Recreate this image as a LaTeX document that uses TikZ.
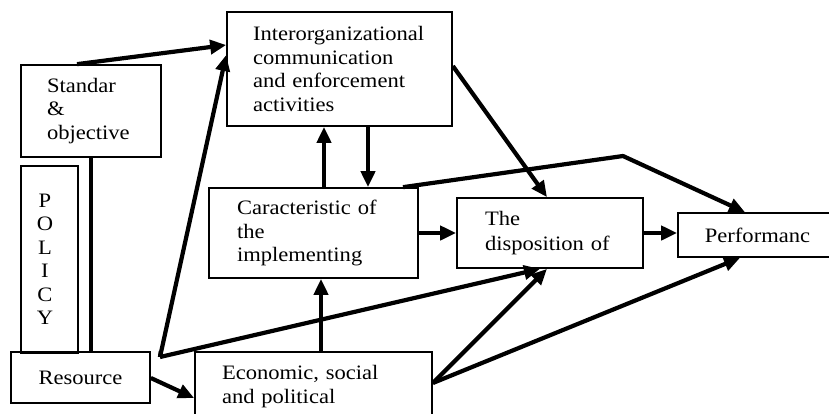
\documentclass[tikz,border=0pt]{standalone}
\usepackage{fontspec}
\setmainfont{Liberation Serif}[FakeStretch=1.1]
\usetikzlibrary{arrows.meta}
% letters of the vertical label sit a little left of the box centre
\newcommand\polchar[1]{\hspace*{-9pt}#1\hspace*{9pt}}
\tikzset{
  box/.style={draw, line width=1.7pt, rectangle, inner ysep=0pt, align=left,
    font=\fontsize{20.5}{23.5}\selectfont},
  flow/.style={line width=4.2pt, -{Triangle[length=16pt,width=14pt]}},
  link/.style={line width=4.2pt},
}
\begin{document}
\begin{tikzpicture}[x=1pt,y=-1pt]
\useasboundingbox[fill=white] (0,0) rectangle (829,413);

% boxes
\node[box, minimum width=140pt, minimum height=92pt, text width=88pt, inner xsep=26pt] (std) at (91,111) {Standar\\\&\\objective};
\node[box, minimum width=57pt, minimum height=187pt, text width=57pt, inner xsep=0pt, align=center] (pol) at (49.5,259.5)
  {\polchar{P}\\\polchar{O}\\\polchar{L}\\\polchar{I}\\\polchar{C}\\\polchar{Y}};
\node[box, minimum width=139pt, minimum height=51pt, text width=139pt, inner xsep=0pt, align=center] (res) at (80.5,377.5) {Resource};
\node[box, minimum width=225pt, minimum height=114pt, text width=173pt, inner xsep=26pt] (io) at (339.5,69)
  {Interorganizational\\communication\\and enforcement\\activities};
\node[box, minimum width=209pt, minimum height=90pt, text width=153pt, inner xsep=28pt] (ch) at (313.5,233)
  {Caracteristic of\\the\\implementing};
\node[box, minimum width=237pt, minimum height=69pt, text width=183pt, inner xsep=27pt] (eco) at (313.5,386.5)
  {Economic, social\\and political};
\node[box, minimum width=186pt, minimum height=70pt, text width=130pt, inner xsep=28pt,
  font=\fontsize{20.5}{25}\selectfont] (disp) at (550,233) {The\\disposition of};
\node[box, minimum width=159pt, minimum height=44pt, text width=159pt, inner xsep=0pt, align=center] (perf) at (757.5,235) {Performanc};

% junction points of the connectors
\coordinate (hub) at (160,357);
\coordinate (bend) at (623,156);

% connectors
\draw[link] (std.south) -- (std.south |- res.north);
\draw[flow] ([xshift=-14pt]std.north) -- ([yshift=24pt]io.west);
\draw[flow] (hub) -- ([yshift=14pt]io.west);
\draw[link] ([xshift=10pt]res.north east) -- (hub);
\draw[flow] (hub) -- ([xshift=-10pt]disp.south);
\draw[flow] ([yshift=-0.5pt]res.east) -- ([yshift=-11.5pt]eco.west);
\draw[flow] ([xshift=10.5pt]ch.north) -- ([xshift=10.5pt]ch.north |- io.south);
\draw[flow] ([xshift=54.5pt]ch.north |- io.south) -- ([xshift=54.5pt]ch.north);
\draw[flow] (ch.east) -- (disp.west);
\draw[flow] ([xshift=7.5pt]eco.north) -- ([xshift=7.5pt]eco.north |- ch.south);
\draw[flow] ([yshift=3pt]io.east) -- ([xshift=-3pt]disp.north);
\draw[flow, line join=round] ([xshift=89.5pt]ch.north) -- (bend) -- ([xshift=-12.5pt]perf.north);
\draw[flow] ([yshift=3.5pt]eco.east) -- ([xshift=-3pt]disp.south);
\draw[flow] ([yshift=3.5pt]eco.east) -- ([xshift=-17.5pt]perf.south);
\draw[flow] (disp.east) -- (disp.east -| perf.west);
\end{tikzpicture}
\end{document}
